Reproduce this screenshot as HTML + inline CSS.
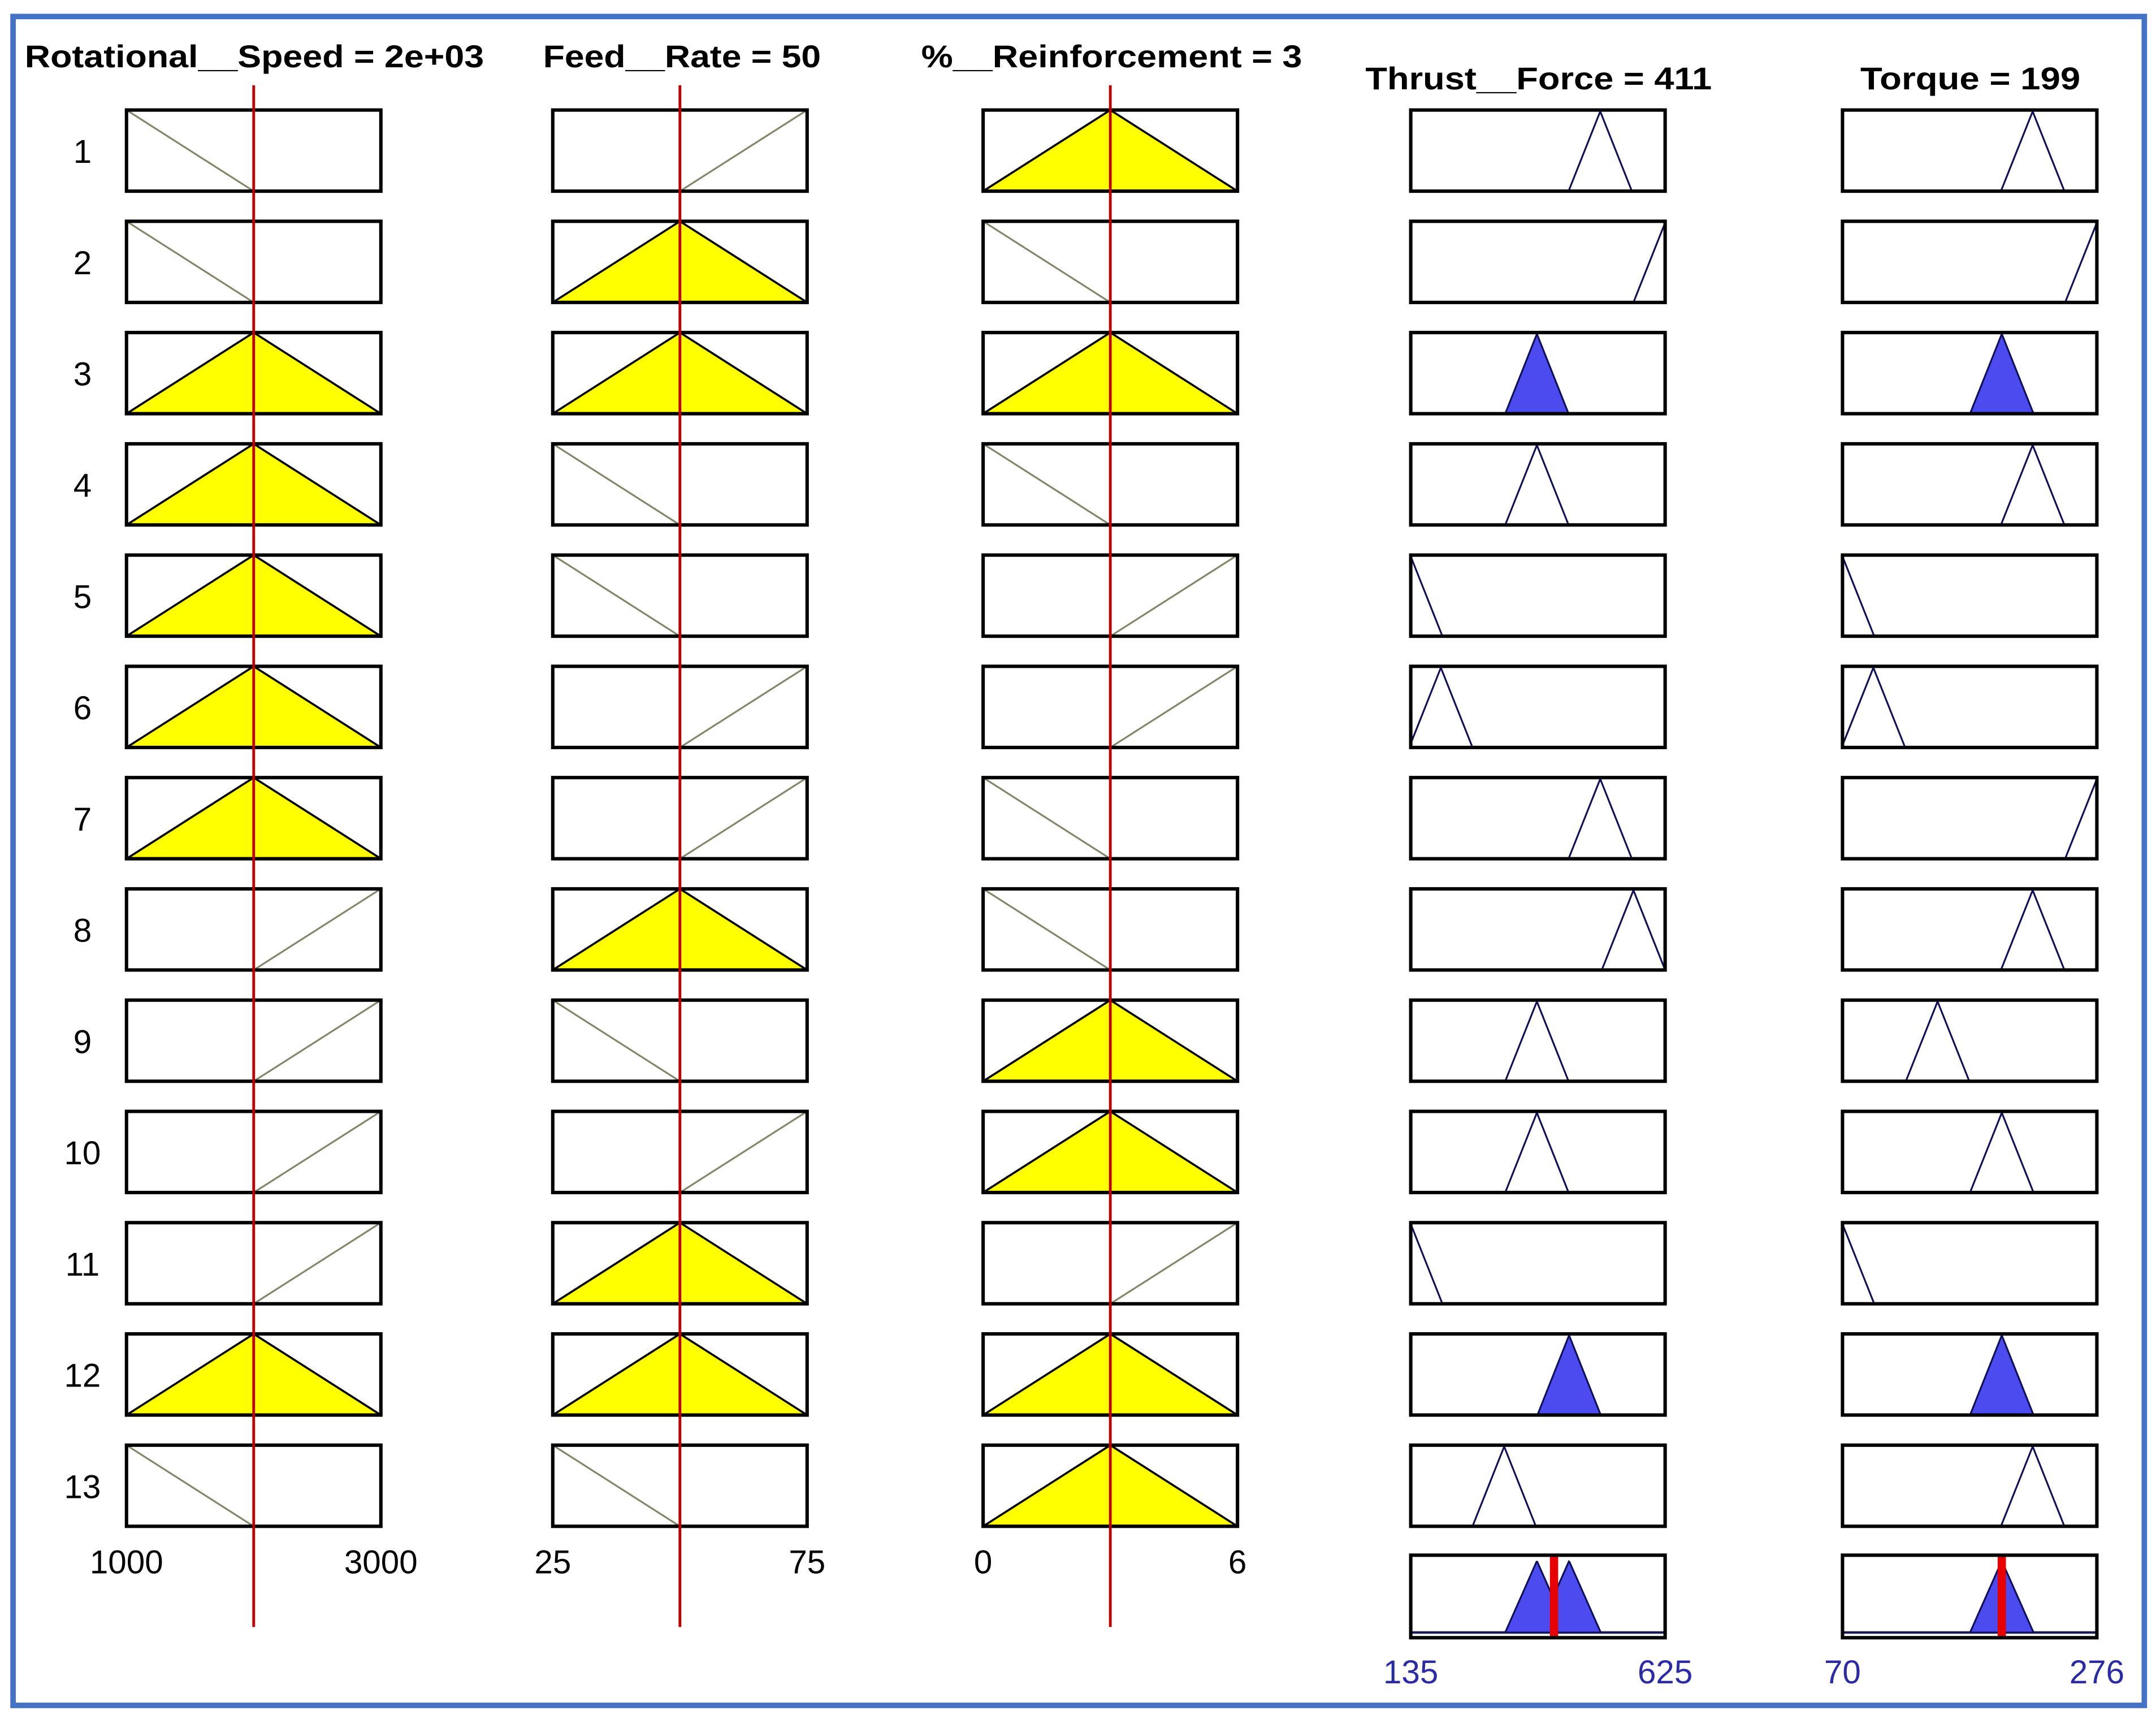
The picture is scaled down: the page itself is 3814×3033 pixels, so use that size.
<!DOCTYPE html>
<html><head><meta charset="utf-8"><style>
html,body{margin:0;padding:0;background:#fff;}
svg{display:block;}
text{font-family:"Liberation Sans",sans-serif;}
</style></head><body>
<svg id="chart" width="3814" height="3033" viewBox="0 0 1568 1247" preserveAspectRatio="none" xmlns="http://www.w3.org/2000/svg">
<rect x="9.5" y="12" width="1550" height="1228" fill="#fff" stroke="#4472c4" stroke-width="4"/>
<g id="layer"></g>
</svg>
<script>
const inputNames = ["Rotational__Speed = 2e+03","Feed__Rate = 50","%__Reinforcement = 3"];
const outputNames = ["Thrust__Force = 411","Torque = 199"];
const inputRanges = [[1000,3000],[25,75],[0,6]];
const inputValues = [2000,50,3];
const inputTicks = [["1000","3000"],["25","75"],["0","6"]];
const outputRanges = [[135,625],[70,276]];
const outputTicks = [["135","625"],["70","276"]];
const outputValues = [411,199];
// rule antecedents: L=low, M=mid, H=high
const ruleSpeed = ["L","L","M","M","M","M","M","H","H","H","H","M","L"];
const ruleFeed  = ["H","M","M","L","L","H","H","M","L","H","M","M","L"];
const ruleReinf = ["M","L","M","L","H","H","L","L","M","M","H","M","M"];
// rule consequent MF centers
const thrustCenters = [500,625,378,378,135,193,500,564,378,378,135,440,315];
const torqueCenters = [224,276,199,224,70,95,276,224,147,199,70,199,224];
const thrustHalf = 61;
const torqueHalf = 25.7;

const NS="http://www.w3.org/2000/svg";
const L=document.getElementById('layer');
function mk(tag,attrs,parent){const e=document.createElementNS(NS,tag);for(const k in attrs)e.setAttribute(k,attrs[k]);(parent||L).appendChild(e);return e;}
const colX=[92,402,715,1026,1340], boxW=185, boxH=59;
const rowY=i=>80+i*80.9;
function xs(col,v,r){return colX[col]+(v-r[0])/(r[1]-r[0])*boxW;}
function trimf(x,a,b,c){if(x<=a&&a<b)return 0; if(x>=c&&c>b)return 0; if(x===b)return 1; if(x<b)return (x-a)/(b-a); return (c-x)/(c-b);}
function mfParams(t,r){const m=(r[0]+r[1])/2; if(t==="L")return [r[0]-1e-9,r[0],m]; if(t==="M")return [r[0],m,r[1]]; return [m,r[1],r[1]+1e-9];}
const rules=[ruleSpeed,ruleFeed,ruleReinf];
const outCenters=[thrustCenters,torqueCenters], outHalf=[thrustHalf,torqueHalf];
const nRules=ruleSpeed.length;
const strengths=[];
for(let i=0;i<nRules;i++){let s=1;for(let c=0;c<3;c++){const p=mfParams(rules[c][i],inputRanges[c]);s=Math.min(s,trimf(inputValues[c],p[0],p[1],p[2]));}strengths.push(s);}

const defs=mk('defs',{});
for(let c=0;c<5;c++){for(let i=0;i<=nRules;i++){const cp=mk('clipPath',{id:'cp'+c+'_'+i},defs);mk('rect',{x:colX[c],y:rowY(i),width:boxW,height:boxH},cp);}}

// titles
const titleL=[18,395,670,993,1353], titleR=[352,597,947,1245,1513];
for(let c=0;c<3;c++){const t=mk('text',{x:titleL[c],y:49,'font-size':23,'font-weight':'bold',textLength:titleR[c]-titleL[c],lengthAdjust:'spacingAndGlyphs'});t.textContent=inputNames[c];}
for(let c=0;c<2;c++){const t=mk('text',{x:titleL[3+c],y:65,'font-size':23,'font-weight':'bold',textLength:titleR[3+c]-titleL[3+c],lengthAdjust:'spacingAndGlyphs'});t.textContent=outputNames[c];}

for(let i=0;i<nRules;i++){
  const y0=rowY(i), y1=y0+boxH;
  const lab=mk('text',{x:60,y:y0+boxH/2+9,'text-anchor':'middle','font-size':24});
  lab.textContent=String(i+1);
  for(let c=0;c<3;c++){
    const r=inputRanges[c];const g=mk('g',{'clip-path':'url(#cp'+c+'_'+i+')'});
    
    mk('rect',{x:colX[c],y:y0,width:boxW,height:boxH,fill:'#fff'},g);
    const p=mfParams(rules[c][i],r), deg=trimf(inputValues[c],p[0],p[1],p[2]);
    const pts=[[p[0],0],[p[1],1],[p[2],0]].map(q=>[xs(c,Math.max(r[0]-1,Math.min(r[1]+1,q[0])),r),y1-q[1]*boxH]);
    if(deg>0){mk('polygon',{points:pts.map(q=>q.join(',')).join(' '),fill:'#ffff00',stroke:'#000','stroke-width':1.5},g);}
    else{mk('polyline',{points:pts.map(q=>q.join(',')).join(' '),fill:'none',stroke:'#85856a','stroke-width':1.3},g);}
  }
  for(let o=0;o<2;o++){
    const c=3+o,r=outputRanges[o],cc=outCenters[o][i],h=outHalf[o];
    const g=mk('g',{'clip-path':'url(#cp'+c+'_'+i+')'});
    
    mk('rect',{x:colX[c],y:y0,width:boxW,height:boxH,fill:'#fff'},g);
    const pts=[[xs(c,cc-h,r),y1],[xs(c,cc,r),y0+1],[xs(c,cc+h,r),y1]].map(q=>q.join(',')).join(' ');
    if(strengths[i]>0)mk('polygon',{points:pts,fill:'#4b4bf0',stroke:'#10105a','stroke-width':1.3},g);
    else mk('polyline',{points:pts,fill:'none',stroke:'#10105a','stroke-width':1.3},g);
  }
  for(let c=0;c<5;c++){const b=mk('rect',{x:colX[c],y:y0,width:boxW,height:boxH,fill:'none',stroke:'#000','stroke-width':2.5});
    }
}
// aggregate row
const ay0=rowY(nRules)-0.9, aBase=1187, aTop=1135;
for(let o=0;o<2;o++){
  const c=3+o,r=outputRanges[o];
  const g=mk('g',{});
  mk('rect',{x:colX[c],y:ay0,width:boxW,height:60,fill:'#fff'},g);
  mk('line',{x1:colX[c],x2:colX[c]+boxW,y1:aBase,y2:aBase,stroke:'#666','stroke-width':2},g);
  const N=370,pts=[];
  for(let k=0;k<=N;k++){const v=r[0]+(r[1]-r[0])*k/N;let m=0;
    for(let i=0;i<nRules;i++){const cc=outCenters[o][i],h=outHalf[o];m=Math.max(m,Math.min(strengths[i],trimf(v,cc-h,cc,cc+h)));}
    pts.push(xs(c,v,r)+','+(aBase-m*(aBase-aTop)));}
  mk('polygon',{points:xs(c,r[0],r)+','+aBase+' '+pts.join(' ')+' '+xs(c,r[1],r)+','+aBase,fill:'#4b4bf0',stroke:'#10105a','stroke-width':1.3},g);
  const dl=mk('line',{x1:xs(c,outputValues[o],r),x2:xs(c,outputValues[o],r),y1:ay0,y2:ay0+60,stroke:'#e80000','stroke-width':6});
  
  const b=mk('rect',{x:colX[c],y:ay0,width:boxW,height:60,fill:'none',stroke:'#000','stroke-width':2.5});
  
  for(let k=0;k<2;k++){const t=mk('text',{x:colX[c]+k*boxW,y:1224,'text-anchor':'middle','font-size':24,fill:'#2b2ba8'});
    t.textContent=outputTicks[o][k];}
}
// input ticks and red lines
for(let c=0;c<3;c++){
  for(let k=0;k<2;k++){const t=mk('text',{x:colX[c]+k*boxW,y:1144,'text-anchor':'middle','font-size':24});
    t.textContent=inputTicks[c][k];}
  const x=xs(c,inputValues[c],inputRanges[c]);
  const ln=mk('line',{x1:x,x2:x,y1:62,y2:1183,stroke:'#c00000','stroke-width':2});
  
}
</script>
</body></html>
